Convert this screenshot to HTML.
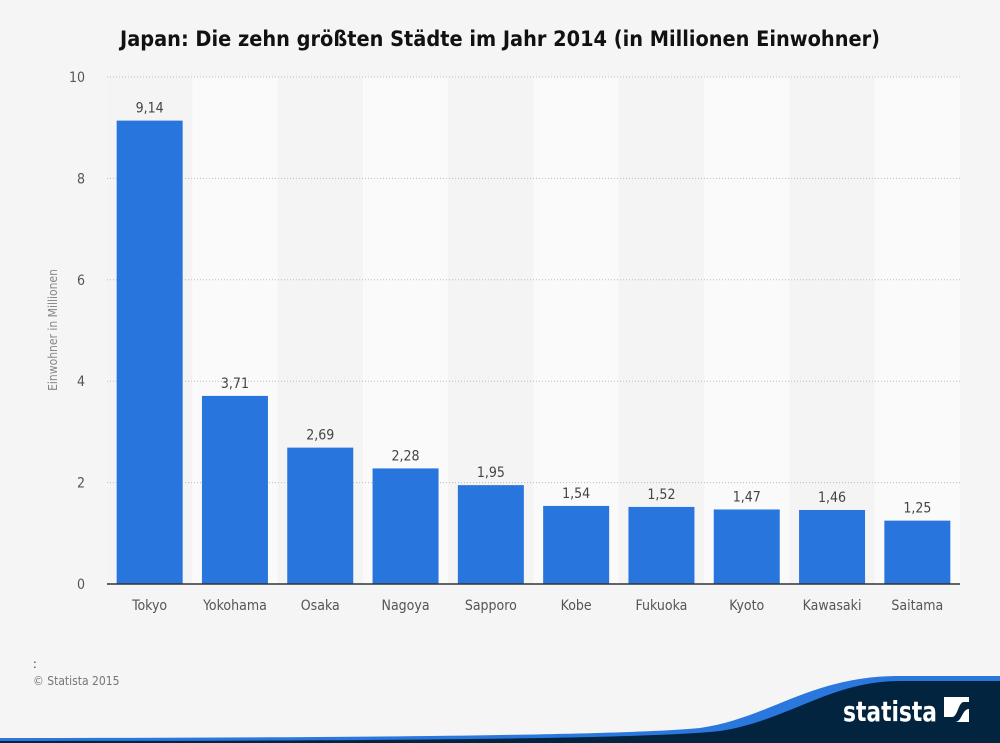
<!DOCTYPE html>
<html><head><meta charset="utf-8"><style>
body{margin:0;width:1000px;height:743px;background:#f5f5f5;font-family:"DejaVu Sans Condensed","DejaVu Sans","Liberation Sans",sans-serif;overflow:hidden}
svg{display:block}
</style></head><body>
<svg width="1000" height="743">
<text x="500" y="46" text-anchor="middle" font-size="21.5" font-weight="bold" fill="#111" textLength="760">Japan: Die zehn größten Städte im Jahr 2014 (in Millionen Einwohner)</text>
<g id="bands"></g><g id="grid"></g><g id="bars"></g>
<line x1="107" y1="584" x2="960" y2="584" stroke="#333" stroke-width="1.5"/>
<text transform="translate(57,330) rotate(-90)" text-anchor="middle" font-size="12" fill="#888">Einwohner in Millionen</text>
<text x="33" y="668" font-size="12" fill="#333">:</text>
<text x="33" y="685" font-size="12" fill="#777">© Statista 2015</text>
<path d="M0,743 L0,738 C300,738 620,736 700,728 C770,718 810,676 900,676 L1000,676 L1000,743 Z" fill="#2a77de"/>
<path d="M0,743 L0,741 C300,741 640,740 720,731 C790,720 830,681 900,681 L1000,681 L1000,743 Z" fill="#03243f"/>
<text x="843" y="721" font-size="28" font-weight="bold" fill="#fff" textLength="94" lengthAdjust="spacingAndGlyphs">statista</text>
<g><rect x="944" y="697" width="25" height="25" fill="#fff"/><path d="M944,717 L952,717 C958,717 958,702 964,702 L969,702 L969,709 C962,709 962,722 955,722 L944,722Z" fill="#03243f"/></g>
</svg>
<script>
const categories=["Tokyo","Yokohama","Osaka","Nagoya","Sapporo","Kobe","Fukuoka","Kyoto","Kawasaki","Saitama"];
const values=[9.14,3.71,2.69,2.28,1.95,1.54,1.52,1.47,1.46,1.25];
const labels=["9,14","3,71","2,69","2,28","1,95","1,54","1,52","1,47","1,46","1,25"];
const yTicks=[0,2,4,6,8,10];
const NS="http://www.w3.org/2000/svg";
const x0=107,x1=960,yTop=77,yBot=584,ymax=10;
const bw=(x1-x0)/categories.length;
const y=v=>yBot-(v/ymax)*(yBot-yTop);
function mk(t,a,p,txt){const e=document.createElementNS(NS,t);for(const k in a)e.setAttribute(k,a[k]);if(txt!==undefined)e.textContent=txt;document.getElementById(p).appendChild(e);return e;}
categories.forEach((c,i)=>{
 const e=mk('rect',{x:x0+i*bw,y:yTop,width:bw,height:yBot-yTop,fill:i%2?'#fafafa':'#f4f4f4'},'bands');
 
 
});
yTicks.forEach(t=>{
 if(t>0){const l=mk('line',{x1:x0,x2:x1,y1:y(t),y2:y(t),stroke:'#bbb','stroke-dasharray':'1,2'},'grid');
 
 }
 const tx=mk('text',{x:85,y:y(t)+5,'text-anchor':'end','font-size':14,fill:'#555'},'grid',String(t));
 
 
});
categories.forEach((c,i)=>{
 const cx=x0+i*bw+bw/2;
 const r=mk('rect',{x:cx-33,y:y(values[i]),width:66,height:yBot-y(values[i]),fill:'#2876dd'},'bars');
 
 
 const v=mk('text',{x:cx,y:y(values[i])-8,'text-anchor':'middle','font-size':14,fill:'#444'},'bars',labels[i]);
 
 
 const xl=mk('text',{x:cx,y:610,'text-anchor':'middle','font-size':14,fill:'#555'},'bars',c);
 
 
});
</script>
</body></html>
